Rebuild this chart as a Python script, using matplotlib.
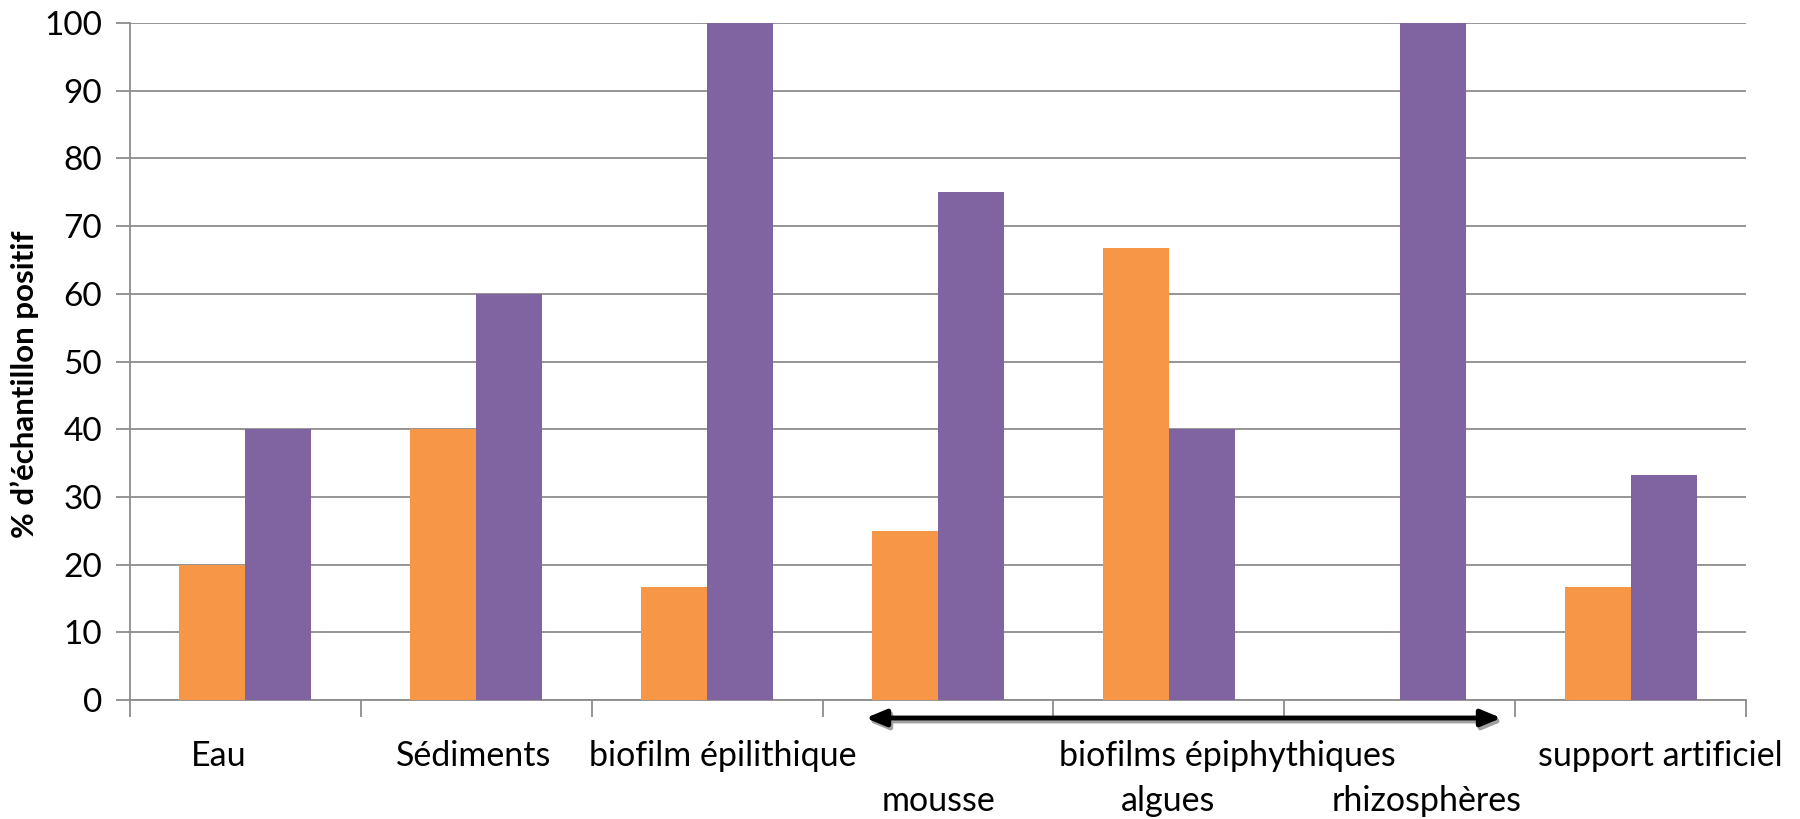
import matplotlib
matplotlib.use("Agg")
import matplotlib.pyplot as plt
import numpy as np

categories = ["Eau", "Sédiments", "biofilm épilithique", "mousse", "algues", "rhizosphères", "support artificiel"]
series_orange = [20, 40, 16.7, 25, 66.7, 0, 16.7]
series_purple = [40, 60, 100, 75, 40, 100, 33.3]
yticks = [0, 10, 20, 30, 40, 50, 60, 70, 80, 90, 100]
ylabel = "% d’échantillon positif"
group_label = "biofilms épiphythiques"

plt.rcParams['font.family'] = ['Lato', 'DejaVu Sans']

W, H = 1800, 819
fig = plt.figure(figsize=(W/100, H/100), dpi=100)
ax = fig.add_axes([130/W, 1-700/H, (1746-130)/W, (700-23)/H])

x = np.arange(len(categories))
bw = 1/3.5
ax.bar(x - bw/2, series_orange, width=bw, color="#F79646", zorder=3)
ax.bar(x + bw/2, series_purple, width=bw, color="#8064A2", zorder=3)

ax.set_xlim(-0.5, len(categories)-0.5)
ax.set_ylim(0, 100)
ax.set_yticks(yticks)
ax.set_yticklabels([str(v) for v in yticks], fontsize=24)
ax.yaxis.grid(True, color="#8C8C8C", linewidth=1.3, zorder=0)
ax.set_axisbelow(True)
ax.tick_params(axis='y', length=10, width=1.3, color="#8C8C8C", pad=10)
ax.set_xticks(np.arange(-0.5, len(categories)))
ax.set_xticklabels([])
ax.tick_params(axis='x', length=12, width=1.3, color="#8C8C8C")
for s in ["top", "right"]:
    ax.spines[s].set_visible(False)
for s in ["left", "bottom"]:
    ax.spines[s].set_color("#8C8C8C")
    ax.spines[s].set_linewidth(1.3)

ax.set_ylabel(ylabel, fontsize=22.5, fontweight='bold')
ax.yaxis.set_label_coords(-0.0565, 0.466)

# category labels (row 1 and row 2)
row1 = {0: 219, 1: 474, 2: 723}
row2 = {3: 938, 4: 1168, 5: 1427}
fs = 24.5
for i, px in row1.items():
    fig.text(px/W, 1-756/H, categories[i], ha='center', va='center', fontsize=fs)
for i, px in row2.items():
    fig.text(px/W, 1-801/H, categories[i], ha='center', va='center', fontsize=fs)
fig.text(1660/W, 1-756/H, categories[6], ha='center', va='center', fontsize=fs)
fig.text(1227/W, 1-756/H, group_label, ha='center', va='center', fontsize=fs)

# double arrow with shadow
y_arr = 1-718/H
for dx, dy, col in [(2/W, -3/H, "#A0A0A0"), (0, 0, "black")]:
    fig.add_artist(matplotlib.patches.FancyArrowPatch(
        (863/W+dx, y_arr+dy), (1504/W+dx, y_arr+dy), transform=fig.transFigure,
        arrowstyle='<|-|>,head_length=12,head_width=5', mutation_scale=1,
        color=col, linewidth=3.5))

fig.savefig("out.png", dpi=100)
